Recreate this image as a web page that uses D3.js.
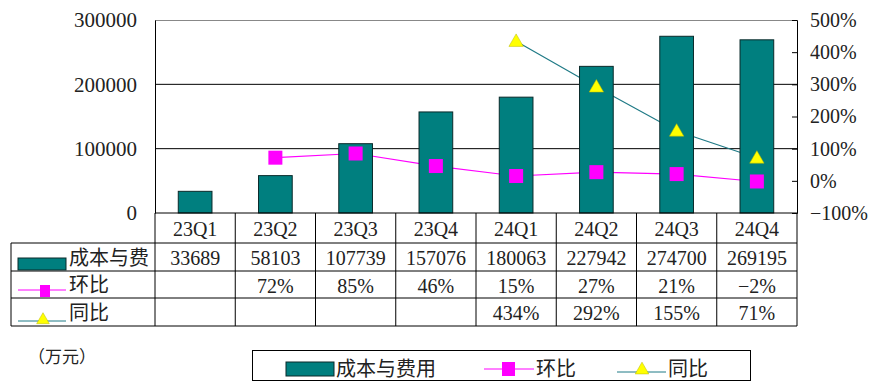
<!DOCTYPE html>
<html>
<head>
<meta charset="utf-8">
<script src="https://cdn.jsdelivr.net/npm/d3@7"></script>
<style>
  body { margin: 0; background: #fff; }
  text { fill: #222; }
</style>
</head>
<body>
<svg></svg>
<script>
let categories = ["23Q1", "23Q2", "23Q3", "23Q4", "24Q1", "24Q2", "24Q3", "24Q4"];
let costs = [33689, 58103, 107739, 157076, 180063, 227942, 274700, 269195];
let qoq = [null, 72, 85, 46, 15, 27, 21, -2];
let yoy = [null, null, null, null, 434, 292, 155, 71];
let leftTicks = [0, 100000, 200000, 300000];
let rightTicks = [-100, 0, 100, 200, 300, 400, 500];

let width = 892;
let height = 392;
let plotLeft = 155, plotRight = 797, plotTop = 20, plotBottom = 213;
let tableLeft = 11;
let rowY = [213, 243, 271, 298, 326];

let serif = "'Liberation Serif', 'DejaVu Serif', serif";
let cjk = "'Noto Sans CJK SC', sans-serif";
let teal = "#007f7f";
let magenta = "#ff00ff";
let lineTeal = "#1f7a86";

let svg = d3.select("svg").attr("width", width).attr("height", height);

let xScale = d3.scaleBand().domain(categories).range([plotLeft, plotRight]).padding(0);
let yScale = d3.scaleLinear().domain([0, 300000]).range([plotBottom, plotTop]);
let y2Scale = d3.scaleLinear().domain([-100, 500]).range([plotBottom, plotTop]);
let barW = xScale.bandwidth() * 0.42;
let cx = (c) => xScale(c) + xScale.bandwidth() / 2;

// gridlines
svg.append("g")
    .selectAll("line")
    .data(leftTicks.filter(d => d > 0 && d < 300000))
    .enter()
    .append("line")
    .attr("x1", plotLeft).attr("x2", plotRight)
    .attr("y1", d => yScale(d)).attr("y2", d => yScale(d))
    .attr("stroke", "#000").attr("stroke-width", 1);

svg.append("line")
    .attr("x1", plotLeft).attr("x2", plotRight)
    .attr("y1", plotTop + 0.5).attr("y2", plotTop + 0.5)
    .attr("stroke", "#888");

// lines (behind bars)
let lineQoq = d3.line()
    .defined(d => d[1] !== null)
    .x(d => cx(d[0]))
    .y(d => y2Scale(d[1]));

svg.append("path")
    .datum(categories.map((c, i) => [c, qoq[i]]))
    .attr("d", lineQoq)
    .attr("fill", "none").attr("stroke", magenta).attr("stroke-width", 1.2);

svg.append("path")
    .datum(categories.map((c, i) => [c, yoy[i]]))
    .attr("d", lineQoq)
    .attr("fill", "none").attr("stroke", lineTeal).attr("stroke-width", 1.2);

// bars
svg.selectAll("rect.bar")
    .data(costs)
    .enter()
    .append("rect")
    .attr("class", "bar")
    .attr("x", (d, i) => cx(categories[i]) - barW / 2)
    .attr("y", d => yScale(d))
    .attr("width", barW)
    .attr("height", d => plotBottom - yScale(d))
    .attr("fill", teal)
    .attr("stroke", "#0a2a2a").attr("stroke-width", 1);

// markers
svg.selectAll("rect.sq")
    .data(categories.map((c, i) => [c, qoq[i]]).filter(d => d[1] !== null))
    .enter()
    .append("rect")
    .attr("class", "sq")
    .attr("x", d => cx(d[0]) - 7)
    .attr("y", d => y2Scale(d[1]) - 7)
    .attr("width", 14).attr("height", 14)
    .attr("fill", magenta);

let tri = d3.symbol().type(d3.symbolTriangle).size(90);
svg.selectAll("path.tri")
    .data(categories.map((c, i) => [c, yoy[i]]).filter(d => d[1] !== null))
    .enter()
    .append("path")
    .attr("class", "tri")
    .attr("d", tri)
    .attr("transform", d => "translate(" + cx(d[0]) + "," + (y2Scale(d[1]) + 1) + ")")
    .attr("fill", "#ffff00")
    .attr("stroke", "#b8b800").attr("stroke-width", 0.5);

// axes
let yAxis = d3.axisLeft(yScale).tickValues(leftTicks).tickSize(0).tickPadding(18)
    .tickFormat(d3.format("d"));
let gy = svg.append("g")
    .attr("transform", "translate(" + plotLeft + ",0)")
    .call(yAxis);
gy.select(".domain").attr("stroke", "#000");
gy.selectAll("text").style("font-family", serif).style("font-size", "21px").attr("fill", "#222");

let y2Axis = d3.axisRight(y2Scale).tickValues(rightTicks).tickSize(-5).tickPadding(13)
    .tickFormat(d => (d < 0 ? "\u2212" + Math.abs(d) : d) + "%");
let gy2 = svg.append("g")
    .attr("transform", "translate(" + plotRight + ",0)")
    .call(y2Axis);
gy2.select(".domain").attr("stroke", "#000");
gy2.selectAll("line").attr("stroke", "#000");
gy2.selectAll("text").style("font-family", serif).style("font-size", "20px").attr("fill", "#222");

// data table
let table = svg.append("g").attr("stroke", "#000").attr("stroke-width", 1);
table.append("line").attr("x1", plotLeft).attr("x2", plotRight).attr("y1", rowY[0]).attr("y2", rowY[0]);
rowY.slice(1).forEach(y => {
    table.append("line").attr("x1", tableLeft).attr("x2", plotRight).attr("y1", y).attr("y2", y);
});
table.append("line").attr("x1", tableLeft).attr("x2", tableLeft).attr("y1", rowY[1]).attr("y2", rowY[4]);
categories.forEach(c => {
    table.append("line").attr("x1", xScale(c)).attr("x2", xScale(c)).attr("y1", rowY[0]).attr("y2", rowY[4]);
});
table.append("line").attr("x1", plotRight).attr("x2", plotRight).attr("y1", rowY[0]).attr("y2", rowY[4]);

let rowMid = (r) => (rowY[r] + rowY[r + 1]) / 2;

svg.append("g").selectAll("text")
    .data(categories)
    .enter()
    .append("text")
    .attr("x", d => cx(d))
    .attr("y", rowMid(0) + 1)
    .attr("text-anchor", "middle")
    .attr("dominant-baseline", "central")
    .style("font-family", serif).style("font-size", "20px")
    .text(d => d);

let rows = [
    costs.map(d => String(d)),
    qoq.map(d => d === null ? "" : (d < 0 ? "\u2212" + Math.abs(d) : d) + "%"),
    yoy.map(d => d === null ? "" : d + "%")
];
rows.forEach((vals, r) => {
    svg.append("g").selectAll("text")
        .data(vals)
        .enter()
        .append("text")
        .attr("x", (d, i) => cx(categories[i]))
        .attr("y", rowMid(r + 1) + 1)
        .attr("text-anchor", "middle")
        .attr("dominant-baseline", "central")
        .style("font-family", serif).style("font-size", "20px")
        .text(d => d);
});

// table legend keys
let keys = svg.append("g");
keys.append("rect").attr("x", 18).attr("y", 258).attr("width", 48).attr("height", 12)
    .attr("fill", teal).attr("stroke", "#0a2a2a");
keys.append("line").attr("x1", 18).attr("x2", 66).attr("y1", 290).attr("y2", 290).attr("stroke", magenta);
keys.append("rect").attr("x", 40).attr("y", 285).attr("width", 10).attr("height", 12).attr("fill", magenta);
keys.append("line").attr("x1", 18).attr("x2", 66).attr("y1", 321).attr("y2", 321).attr("stroke", lineTeal);
keys.append("path").attr("d", d3.symbol().type(d3.symbolTriangle).size(70))
    .attr("transform", "translate(43,320)").attr("fill", "#ffff00").attr("stroke", "#b8b800").attr("stroke-width", 0.5);

let keyLabels = ["成本与费", "环比", "同比"];
keys.selectAll("text")
    .data(keyLabels)
    .enter()
    .append("text")
    .attr("x", 69)
    .attr("y", (d, i) => rowMid(i + 1) - 1)
    .attr("dominant-baseline", "central")
    .style("font-family", cjk).style("font-size", "20px")
    .text(d => d);

// unit
svg.append("text")
    .attr("x", 28).attr("y", 355)
    .attr("dominant-baseline", "central")
    .style("font-family", cjk).style("font-size", "17px")
    .text("（万元）");

// bottom legend
let lg = svg.append("g");
lg.append("rect").attr("x", 252.5).attr("y", 350.5).attr("width", 498).attr("height", 30)
    .attr("fill", "#fff").attr("stroke", "#000");
lg.append("rect").attr("x", 286).attr("y", 362).attr("width", 48).attr("height", 14)
    .attr("fill", teal).attr("stroke", "#0a2a2a");
lg.append("text").attr("x", 336).attr("y", 367).attr("dominant-baseline", "central")
    .style("font-family", cjk).style("font-size", "20px").text("成本与费用");
lg.append("line").attr("x1", 484).attr("x2", 534).attr("y1", 369).attr("y2", 369).attr("stroke", magenta);
lg.append("rect").attr("x", 502).attr("y", 362).attr("width", 13).attr("height", 14).attr("fill", magenta);
lg.append("text").attr("x", 536).attr("y", 367).attr("dominant-baseline", "central")
    .style("font-family", cjk).style("font-size", "20px").text("环比");
lg.append("line").attr("x1", 617).attr("x2", 666).attr("y1", 372).attr("y2", 372).attr("stroke", lineTeal);
lg.append("path").attr("d", d3.symbol().type(d3.symbolTriangle).size(80))
    .attr("transform", "translate(642,370)").attr("fill", "#ffff00").attr("stroke", "#b8b800").attr("stroke-width", 0.5);
lg.append("text").attr("x", 668).attr("y", 367).attr("dominant-baseline", "central")
    .style("font-family", cjk).style("font-size", "20px").text("同比");
</script>
</body>
</html>
